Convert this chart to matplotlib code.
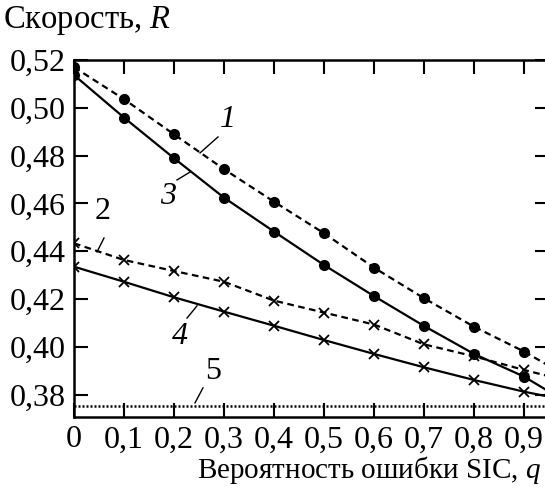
import matplotlib
matplotlib.use("Agg")
import matplotlib.pyplot as plt

# данные
q = [0.0, 0.1, 0.2, 0.3, 0.4, 0.5, 0.6, 0.7, 0.8, 0.9, 1.0]
r1 = [0.517, 0.5036, 0.4889, 0.4743, 0.4607, 0.4475, 0.4331, 0.4203, 0.4084, 0.398, 0.386]
r2 = [0.4433, 0.4363, 0.4317, 0.4272, 0.4193, 0.4143, 0.4093, 0.401, 0.396, 0.3903, 0.385]
r3 = [0.5137, 0.4959, 0.4789, 0.4624, 0.4482, 0.4342, 0.4212, 0.4087, 0.397, 0.3875, 0.375]
r4 = [0.4335, 0.4272, 0.4207, 0.4147, 0.4088, 0.4028, 0.397, 0.3914, 0.3861, 0.3812, 0.377]
r5 = [0.3752] * len(q)

xticks = [0.0, 0.1, 0.2, 0.3, 0.4, 0.5, 0.6, 0.7, 0.8, 0.9]
xticklabels = ["0", "0,1", "0,2", "0,3", "0,4", "0,5", "0,6", "0,7", "0,8", "0,9"]
yticks = [0.38, 0.40, 0.42, 0.44, 0.46, 0.48, 0.50, 0.52]
yticklabels = ["0,38", "0,40", "0,42", "0,44", "0,46", "0,48", "0,50", "0,52"]

plt.rcParams['font.family'] = ['Liberation Serif', 'DejaVu Serif']
plt.rcParams['mathtext.fontset'] = 'custom'
plt.rcParams['mathtext.rm'] = 'Liberation Serif'
plt.rcParams['mathtext.it'] = 'Liberation Serif:italic'

W, H = 545, 488
fig = plt.figure(figsize=(W / 100, H / 100), dpi=100)
ax = fig.add_axes([74 / W, 1 - 417 / H, 475 / W, 357 / H])
ax.set_xlim(0, 0.95)
ax.set_ylim(0.3706, 0.52)

lw = 1.6
ax.plot(q, r1, color='k', lw=lw, ls=(0, (3, 2)), marker='o', ms=7)
ax.plot(q, r3, color='k', lw=lw, ls='-', marker='o', ms=7)
ax.plot(q, r2, color='k', lw=lw, ls=(0, (3, 2)), marker='x', ms=6.5, mew=1.3)
ax.plot(q, r4, color='k', lw=lw, ls='-', marker='x', ms=6.5, mew=1.3)
ax.plot(q, r5, color='k', lw=1.8, ls=(0, (0.8, 0.8)))

# подписи кривых с выносками
fs = 23
labels = [
    ("1", 0.308, 0.4950, 'italic', (0.288, 0.4878), (0.252, 0.4811)),
    ("3", 0.188, 0.4627, 'italic', (0.206, 0.4698), (0.232, 0.4731)),
    ("2", 0.058, 0.4564, 'normal', (0.046, 0.4397), (0.060, 0.4455)),
    ("4", 0.212, 0.4041, 'italic', (0.226, 0.4120), (0.246, 0.4171)),
    ("5", 0.278, 0.3895, 'normal', (0.242, 0.3765), (0.258, 0.3828)),
]
for s, tx, ty, st, p0, p1 in labels:
    ax.text(tx, ty, s, fontsize=fs, style=st, ha='center', va='center')
    ax.plot([p0[0], p1[0]], [p0[1], p1[1]], color='k', lw=1.0)

ax.set_xticks(xticks)
ax.set_xticklabels(xticklabels)
ax.set_yticks(yticks)
ax.set_yticklabels(yticklabels)
ax.tick_params(direction='in', length=10, width=1.5, labelsize=fs,
               top=True, right=True, pad=6)
for sp in ax.spines.values():
    sp.set_linewidth(1.8)

fig.text(3 / W, 1 - 28 / H, "Скорость, $R$", fontsize=23.5, ha='left', va='baseline')
fig.text(541 / W, 1 - 478 / H, "Вероятность ошибки SIC, $q$", fontsize=21,
         ha='right', va='baseline')

fig.savefig("out.png", dpi=100)
